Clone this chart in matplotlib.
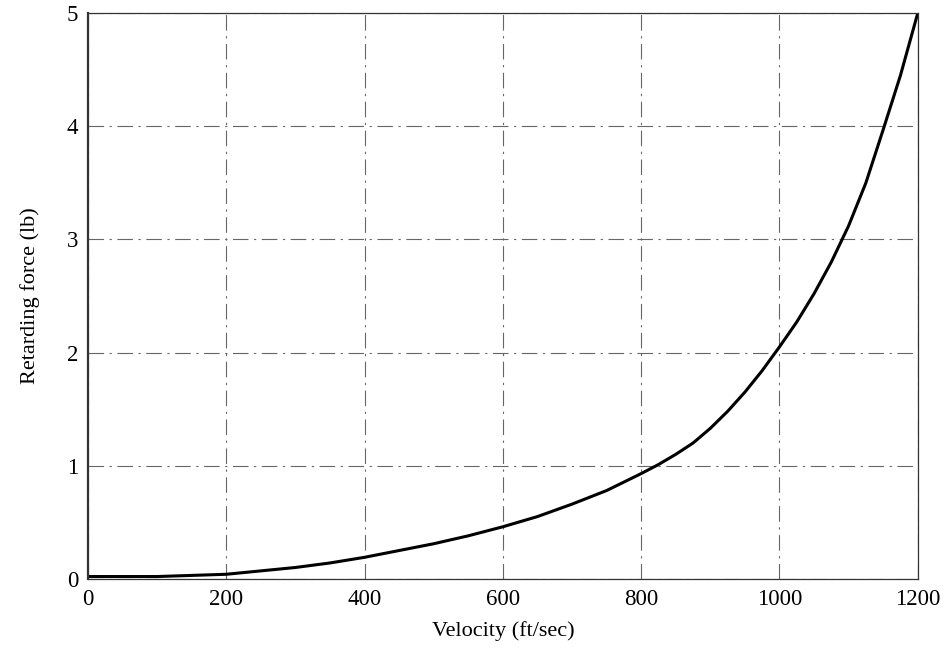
import matplotlib
matplotlib.use("Agg")
import matplotlib.pyplot as plt

plt.rcParams["font.family"] = ["Liberation Serif", "DejaVu Serif"]

# velocity (ft/sec) vs retarding force (lb)
velocity = [0, 50, 100, 150, 200, 250, 300, 350, 400, 450, 500, 550, 600,
            650, 700, 750, 800, 825, 850, 875, 900, 925, 950, 975, 1000,
            1025, 1050, 1075, 1100, 1125, 1150, 1175, 1200]
force = [0.02, 0.02, 0.02, 0.03, 0.04, 0.07, 0.1, 0.14, 0.19, 0.25, 0.31,
         0.38, 0.46, 0.55, 0.66, 0.78, 0.93, 1.01, 1.1, 1.2, 1.33, 1.48,
         1.65, 1.84, 2.05, 2.27, 2.52, 2.8, 3.12, 3.5, 3.97, 4.45, 5.0]
x_ticks = [0, 200, 400, 600, 800, 1000, 1200]
y_ticks = [0, 1, 2, 3, 4, 5]

fig = plt.figure(figsize=(9.51, 6.63), dpi=100)
ax = fig.add_axes([0.0925, 0.127, 0.8725, 0.853])

ax.plot(velocity, force, color="black", linewidth=2.2,
        solid_capstyle="round", solid_joinstyle="round")

ax.set_xlim(0, 1200)
ax.set_ylim(0, 5)
ax.set_xticks(x_ticks)
ax.set_yticks(y_ticks)
ax.tick_params(length=0, labelsize=16.5, pad=7)
ax.grid(True, color="#666666", linestyle=(0, (14, 5, 2, 5)), linewidth=0.8)

for side, spine in ax.spines.items():
    spine.set_color("#333333")
    spine.set_linewidth(0.9)
ax.spines["left"].set_linewidth(1.6)

ax.set_xlabel("Velocity (ft/sec)", fontsize=16, labelpad=8)
ax.set_ylabel("Retarding force (lb)", fontsize=16, labelpad=19)

fig.savefig("out.png", dpi=100)
